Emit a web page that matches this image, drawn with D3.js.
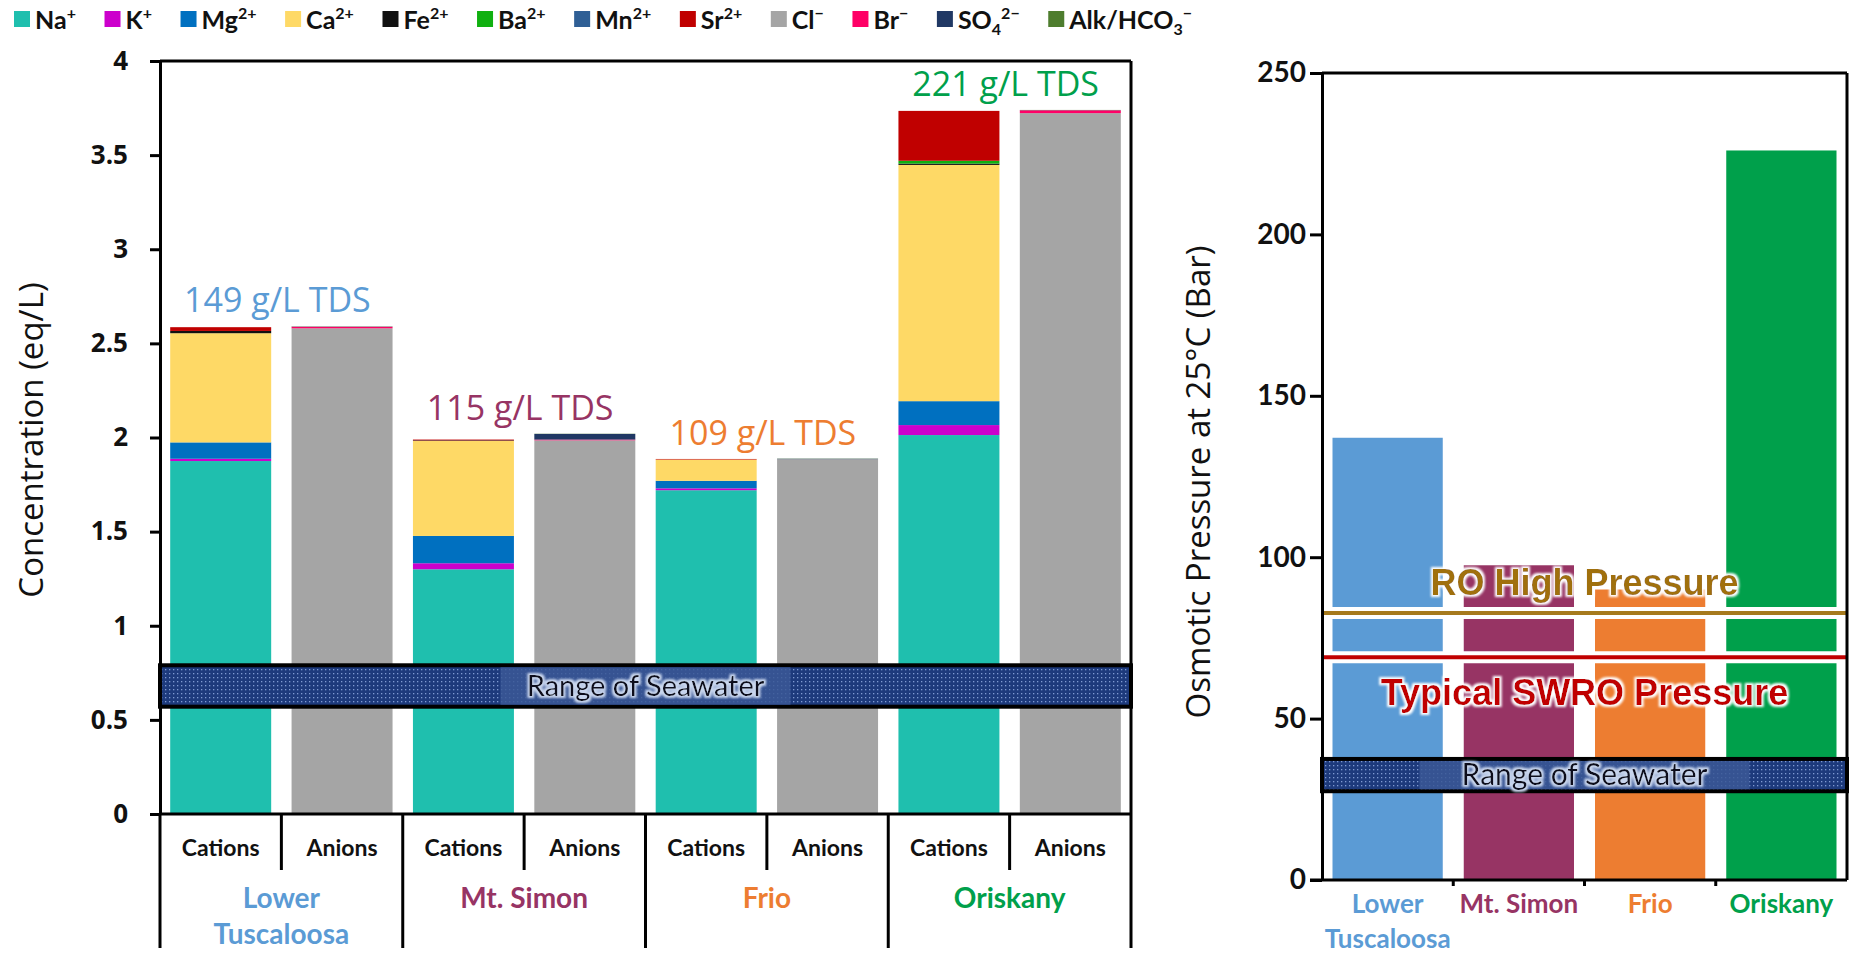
<!DOCTYPE html>
<html>
<head>
<meta charset="utf-8">
<script src="https://cdn.jsdelivr.net/npm/d3@7"></script>
<style>
    body { margin: 0; background: #ffffff; }
</style>
</head>
<body>
<div id="canvas"></div>
<script>
"use strict";

/* ---------------- DATA ---------------- */

let formations = ["Lower Tuscaloosa", "Mt. Simon", "Frio", "Oriskany"];
let formationLines = [["Lower", "Tuscaloosa"], ["Mt. Simon"], ["Frio"], ["Oriskany"]];
let sides = ["Cations", "Anions"];
let tdsValues = [149, 115, 109, 221];

// eq/L, one value per formation
let naValues  = [1.875, 1.300, 1.720, 2.013];
let kValues   = [0.012, 0.032, 0.010, 0.053];
let mgValues  = [0.087, 0.145, 0.040, 0.127];
let caValues  = [0.580, 0.505, 0.113, 1.255];
let feValues  = [0.012, 0.003, 0.000, 0.007];
let baValues  = [0.000, 0.000, 0.000, 0.015];
let mnValues  = [0.000, 0.000, 0.000, 0.000];
let srValues  = [0.020, 0.004, 0.003, 0.265];
let clValues  = [2.580, 1.985, 1.885, 3.723];
let brValues  = [0.008, 0.004, 0.000, 0.015];
let so4Values = [0.001, 0.030, 0.002, 0.001];
let alkValues = [0.001, 0.001, 0.001, 0.001];

// Bar, one value per formation
let osmoticPressure = [137, 97.5, 90, 226];

let seawaterConc = [0.57, 0.79];
let seawaterPressure = [27.5, 37.5];
let roHighPressure = 82.7;
let swroPressure = 69;

let concTicks = [0, 0.5, 1, 1.5, 2, 2.5, 3, 3.5, 4];
let pressureTicks = [0, 50, 100, 150, 200, 250];

/* ---------------- SETUP ---------------- */

let svgWidth = 1851;
let svgHeight = 953;

let left = { x0: 160, x1: 1131, top: 61, base: 814, bottom: 948 };
let right = { x0: 1322, x1: 1847, top: 73, base: 880 };

let formationColors = ["#5b9bd5", "#973464", "#ed7d31", "#00a04b"];

let ions = [
    { key: "Na",  values: naValues,  color: "#1fbfae", label: [["Na", ""], ["+", "sup"]] },
    { key: "K",   values: kValues,   color: "#cc00cc", label: [["K", ""], ["+", "sup"]] },
    { key: "Mg",  values: mgValues,  color: "#0070c0", label: [["Mg", ""], ["2+", "sup"]] },
    { key: "Ca",  values: caValues,  color: "#fed966", label: [["Ca", ""], ["2+", "sup"]] },
    { key: "Fe",  values: feValues,  color: "#111111", label: [["Fe", ""], ["2+", "sup"]] },
    { key: "Ba",  values: baValues,  color: "#10b010", label: [["Ba", ""], ["2+", "sup"]] },
    { key: "Mn",  values: mnValues,  color: "#2f5f95", label: [["Mn", ""], ["2+", "sup"]] },
    { key: "Sr",  values: srValues,  color: "#c00000", label: [["Sr", ""], ["2+", "sup"]] },
    { key: "Cl",  values: clValues,  color: "#a5a5a5", label: [["Cl", ""], ["\u2212", "sup"]] },
    { key: "Br",  values: brValues,  color: "#ff0066", label: [["Br", ""], ["\u2212", "sup"]] },
    { key: "SO4", values: so4Values, color: "#203864", label: [["SO", ""], ["4", "sub"], ["2\u2212", "sup"]] },
    { key: "Alk", values: alkValues, color: "#4e7d2e", label: [["Alk/HCO", ""], ["3", "sub"], ["\u2212", "sup"]] }
];

let cationIons = ions.slice(0, 8);
let anionIons = ions.slice(8);

let svg = d3.select("#canvas")
    .append("svg")
    .attr("width", svgWidth)
    .attr("height", svgHeight)
    .style("font-family", "'Open Sans', sans-serif");

svg.append("rect")
    .attr("width", svgWidth)
    .attr("height", svgHeight)
    .attr("fill", "#ffffff");

/* ---------------- DEFS ---------------- */

let defs = svg.append("defs");

let pat = defs.append("pattern")
    .attr("id", "sea")
    .attr("width", 4)
    .attr("height", 4)
    .attr("patternUnits", "userSpaceOnUse");
pat.append("rect").attr("width", 4).attr("height", 4).attr("fill", "#1d3a7c");
pat.append("rect").attr("x", 1).attr("y", 1).attr("width", 1.3).attr("height", 1.3).attr("fill", "#7f9ad2");

function addGlow(id, color, radius) {
    let f = defs.append("filter").attr("id", id)
        .attr("x", "-10%").attr("y", "-30%").attr("width", "120%").attr("height", "160%");
    f.append("feMorphology").attr("in", "SourceAlpha").attr("operator", "dilate")
        .attr("radius", radius).attr("result", "fat");
    f.append("feGaussianBlur").attr("in", "fat").attr("stdDeviation", 1.2).attr("result", "soft");
    f.append("feFlood").attr("flood-color", color).attr("result", "col");
    f.append("feComposite").attr("in", "col").attr("in2", "soft").attr("operator", "in").attr("result", "halo");
    let m = f.append("feMerge");
    m.append("feMergeNode").attr("in", "halo");
    m.append("feMergeNode").attr("in", "SourceGraphic");
}
addGlow("glowWhite", "#ffffff", 2);
addGlow("glowPale", "#c9d6ee", 1.5);

/* ---------------- SCALES ---------------- */

let slotKeys = [];
formations.forEach(function (f, i) {
    sides.forEach(function (s) { slotKeys.push(i + "-" + s); });
});

let xLeft = d3.scaleBand()
    .domain(slotKeys)
    .range([left.x0, left.x1])
    .paddingInner(0.168)
    .paddingOuter(0.084);

let yLeft = d3.scaleLinear().domain([0, 4]).range([left.base, left.top]);

let xRight = d3.scaleBand()
    .domain(formations)
    .range([right.x0, right.x1])
    .paddingInner(0.16)
    .paddingOuter(0.08);

let yRight = d3.scaleLinear().domain([0, 250]).range([right.base, right.top]);

let leftStep = xLeft.step();
let rightStep = xRight.step();

/* ---------------- LEFT CHART: STACKED BARS ---------------- */

let barsLeft = svg.append("g");

function drawStack(slot, ionList, fi) {
    let cum = 0;
    ionList.forEach(function (ion) {
        let v = ion.values[fi];
        if (v <= 0) { return; }
        barsLeft.append("rect")
            .attr("x", xLeft(slot))
            .attr("width", xLeft.bandwidth())
            .attr("y", yLeft(cum + v))
            .attr("height", yLeft(cum) - yLeft(cum + v))
            .attr("fill", ion.color);
        cum += v;
    });
    return cum;
}

let stackTops = formations.map(function (f, i) {
    let c = drawStack(i + "-Cations", cationIons, i);
    let a = drawStack(i + "-Anions", anionIons, i);
    return Math.max(c, a);
});

/* --- TDS labels --- */

formations.forEach(function (f, i) {
    let cx = left.x0 + leftStep * (2 * i + 1) - 4;
    svg.append("text")
        .attr("x", cx)
        .attr("y", yLeft(stackTops[i]) - 14)
        .attr("text-anchor", "middle")
        .attr("font-size", 34)
        .attr("fill", formationColors[i])
        .text(tdsValues[i] + " g/L TDS");
});

/* --- seawater band --- */

function drawSeawater(x0, x1, yTop, yBot, labelWidth, fontSize) {
    let g = svg.append("g");
    g.append("rect")
        .attr("x", x0)
        .attr("y", yTop)
        .attr("width", x1 - x0)
        .attr("height", yBot - yTop)
        .attr("fill", "url(#sea)")
        .attr("stroke", "#000")
        .attr("stroke-width", 4);
    let cx = (x0 + x1) / 2;
    g.append("rect")
        .attr("x", cx - labelWidth / 2)
        .attr("y", yTop + 2)
        .attr("width", labelWidth)
        .attr("height", yBot - yTop - 4)
        .attr("fill", "#3b5897")
        .attr("opacity", 0.85);
    g.append("text")
        .attr("x", cx)
        .attr("y", (yTop + yBot) / 2 + fontSize * 0.34)
        .attr("text-anchor", "middle")
        .attr("font-family", "Lato, sans-serif")
        .attr("font-size", fontSize)
        .attr("fill", "#0c0c1c")
        .attr("filter", "url(#glowPale)")
        .text("Range of Seawater");
}

drawSeawater(left.x0, left.x1, yLeft(seawaterConc[1]), yLeft(seawaterConc[0]), 290, 29);

/* --- frame and category axis (left) --- */

let frameLeft = svg.append("g")
    .attr("stroke", "#000")
    .attr("stroke-width", 3)
    .attr("fill", "none");

frameLeft.append("line").attr("x1", left.x0).attr("x2", left.x1).attr("y1", left.top).attr("y2", left.top);
frameLeft.append("line").attr("x1", left.x1).attr("x2", left.x1).attr("y1", left.top).attr("y2", left.bottom);
frameLeft.append("line").attr("x1", left.x0).attr("x2", left.x0).attr("y1", left.base).attr("y2", left.bottom);
frameLeft.append("line").attr("x1", left.x0).attr("x2", left.x1).attr("y1", left.base).attr("y2", left.base);

for (let k = 1; k < slotKeys.length; k++) {
    let x = left.x0 + k * leftStep;
    frameLeft.append("line")
        .attr("x1", x).attr("x2", x)
        .attr("y1", left.base)
        .attr("y2", k % 2 === 1 ? 870 : left.bottom);
}

slotKeys.forEach(function (key) {
    svg.append("text")
        .attr("x", xLeft(key) + xLeft.bandwidth() / 2)
        .attr("y", 856)
        .attr("text-anchor", "middle")
        .attr("font-family", "Lato, sans-serif")
        .attr("font-weight", 700)
        .attr("font-size", 23)
        .attr("fill", "#111")
        .text(key.split("-")[1]);
});

formationLines.forEach(function (lines, i) {
    let cx = left.x0 + leftStep * (2 * i + 1);
    lines.forEach(function (line, j) {
        svg.append("text")
            .attr("x", cx)
            .attr("y", 908 + j * 36)
            .attr("text-anchor", "middle")
            .attr("font-family", "Lato, sans-serif")
            .attr("font-weight", 700)
            .attr("font-size", 28)
            .attr("fill", formationColors[i])
            .text(line);
    });
});

/* --- y axis (left) --- */

let axisLeftG = svg.append("g")
    .attr("transform", "translate(" + left.x0 + ",0)")
    .call(d3.axisLeft(yLeft)
        .tickValues(concTicks)
        .tickSize(10)
        .tickSizeOuter(0)
        .tickPadding(22)
        .tickFormat(d3.format("")));

axisLeftG.select(".domain").attr("stroke-width", 3);
axisLeftG.selectAll(".tick line").attr("stroke-width", 3);
axisLeftG.selectAll(".tick text")
    .attr("font-family", "'Open Sans', sans-serif")
    .attr("font-weight", 700)
    .attr("font-size", 26)
    .attr("fill", "#111");

svg.append("text")
    .attr("transform", "translate(43,440) rotate(-90)")
    .attr("text-anchor", "middle")
    .attr("font-size", 33)
    .attr("fill", "#111")
    .text("Concentration (eq/L)");

/* ---------------- LEGEND ---------------- */

let legend = svg.append("g");
let legendStart = 14;
let legendEnd = 1192;
let legendItems = [];

ions.forEach(function (ion) {
    let g = legend.append("g");
    g.append("rect")
        .attr("width", 16)
        .attr("height", 16)
        .attr("y", 11)
        .attr("fill", ion.color);
    let t = g.append("text")
        .attr("x", 21)
        .attr("y", 29)
        .attr("font-family", "Lato, sans-serif")
        .attr("font-weight", 700)
        .attr("font-size", 25)
        .attr("fill", "#111");
    let shift = 0;
    ion.label.forEach(function (part) {
        let target = part[1] === "sup" ? -10 : (part[1] === "sub" ? 6 : 0);
        t.append("tspan")
            .attr("dy", target - shift)
            .attr("font-size", part[1] === "" ? 25 : 16)
            .text(part[0]);
        shift = target;
    });
    legendItems.push({ g: g, w: 21 + t.node().getComputedTextLength() });
});

let totalW = d3.sum(legendItems, function (d) { return d.w; });
let gap = (legendEnd - legendStart - totalW) / (legendItems.length - 1);
let lx = legendStart;
legendItems.forEach(function (d) {
    d.g.attr("transform", "translate(" + lx + ",0)");
    lx += d.w + gap;
});

/* ---------------- RIGHT CHART ---------------- */

svg.append("g")
    .selectAll("rect")
    .data(formations)
    .join("rect")
    .attr("x", function (d) { return xRight(d); })
    .attr("width", xRight.bandwidth())
    .attr("y", function (d, i) { return yRight(osmoticPressure[i]); })
    .attr("height", function (d, i) { return yRight(0) - yRight(osmoticPressure[i]); })
    .attr("fill", function (d, i) { return formationColors[i]; });

function pressureLine(value, color) {
    let y = yRight(value);
    svg.append("line")
        .attr("x1", right.x0).attr("x2", right.x1)
        .attr("y1", y).attr("y2", y)
        .attr("stroke", "#fff").attr("stroke-width", 12);
    svg.append("line")
        .attr("x1", right.x0).attr("x2", right.x1)
        .attr("y1", y).attr("y2", y)
        .attr("stroke", color).attr("stroke-width", 4);
}
pressureLine(roHighPressure, "#a67a1d");
pressureLine(swroPressure, "#c00000");

let rightCx = (right.x0 + right.x1) / 2;

svg.append("text")
    .attr("x", rightCx)
    .attr("y", yRight(roHighPressure) - 18)
    .attr("text-anchor", "middle")
    .attr("font-family", "'Liberation Sans', Arial, sans-serif")
    .attr("font-weight", 700)
    .attr("font-size", 36)
    .attr("fill", "#a0700f")
    .attr("filter", "url(#glowWhite)")
    .text("RO High Pressure");

svg.append("text")
    .attr("x", rightCx)
    .attr("y", yRight(swroPressure) + 48)
    .attr("text-anchor", "middle")
    .attr("font-family", "'Liberation Sans', Arial, sans-serif")
    .attr("font-weight", 700)
    .attr("font-size", 36)
    .attr("fill", "#c00000")
    .attr("filter", "url(#glowWhite)")
    .text("Typical SWRO Pressure");

drawSeawater(right.x0, right.x1, yRight(seawaterPressure[1]), yRight(seawaterPressure[0]), 330, 30);

/* --- frame (right) --- */

let frameRight = svg.append("g")
    .attr("stroke", "#000")
    .attr("stroke-width", 3)
    .attr("fill", "none");

frameRight.append("line").attr("x1", right.x0).attr("x2", right.x1).attr("y1", right.top).attr("y2", right.top);
frameRight.append("line").attr("x1", right.x1).attr("x2", right.x1).attr("y1", right.top).attr("y2", right.base);
frameRight.append("line").attr("x1", right.x0 - 12).attr("x2", right.x1).attr("y1", right.base).attr("y2", right.base);

for (let k = 1; k < formations.length; k++) {
    let x = right.x0 + k * rightStep;
    frameRight.append("line")
        .attr("x1", x).attr("x2", x)
        .attr("y1", right.base).attr("y2", right.base + 6);
}

let axisRightG = svg.append("g")
    .attr("transform", "translate(" + right.x0 + ",0)")
    .call(d3.axisLeft(yRight)
        .tickValues(pressureTicks)
        .tickSize(12)
        .tickSizeOuter(0)
        .tickPadding(4)
        .tickFormat(d3.format("")));

axisRightG.select(".domain").attr("stroke-width", 3);
axisRightG.selectAll(".tick line").attr("stroke-width", 3);
axisRightG.selectAll(".tick text")
    .attr("font-family", "Lato, sans-serif")
    .attr("font-weight", 700)
    .attr("font-size", 28)
    .attr("fill", "#111");

svg.append("text")
    .attr("transform", "translate(1210,482) rotate(-90)")
    .attr("text-anchor", "middle")
    .attr("font-size", 33)
    .attr("fill", "#111")
    .text("Osmotic Pressure at 25\u00b0C (Bar)");

formationLines.forEach(function (lines, i) {
    let cx = xRight(formations[i]) + xRight.bandwidth() / 2;
    lines.forEach(function (line, j) {
        svg.append("text")
            .attr("x", cx)
            .attr("y", 913 + j * 35)
            .attr("text-anchor", "middle")
            .attr("font-family", "Lato, sans-serif")
            .attr("font-weight", 700)
            .attr("font-size", 26)
            .attr("fill", formationColors[i])
            .text(line);
    });
});
</script>
</body>
</html>
